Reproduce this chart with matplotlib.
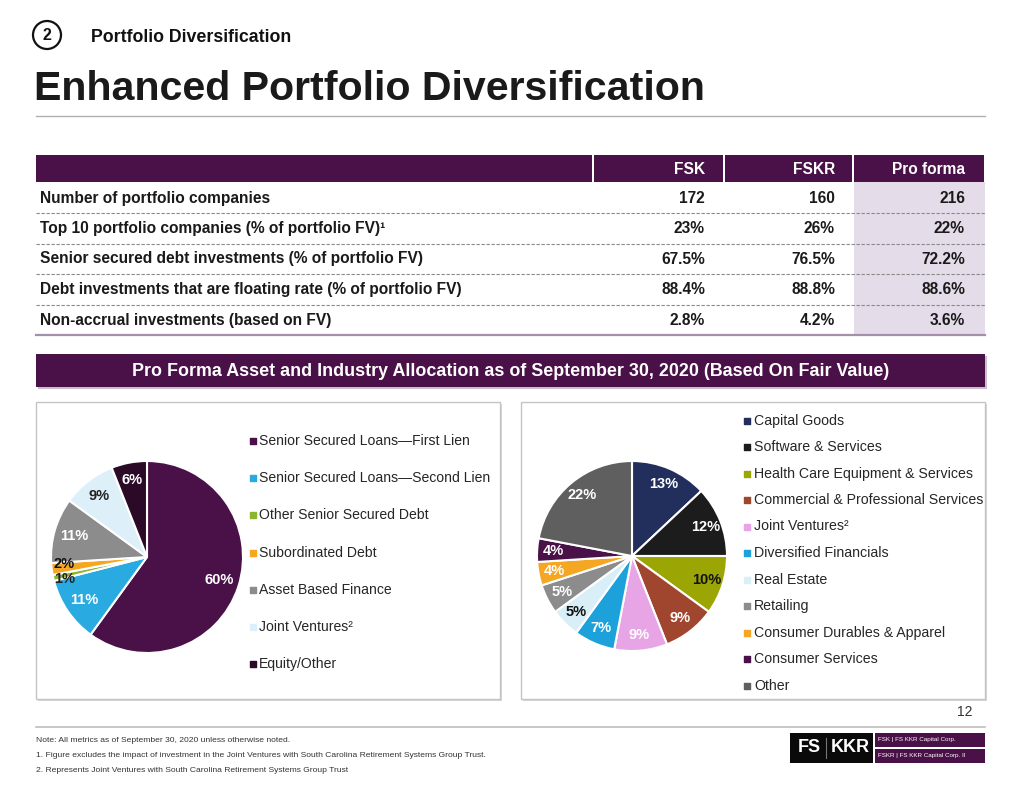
import numpy as np
import matplotlib
matplotlib.use("Agg")
from matplotlib import pyplot as plt
from matplotlib.patches import Rectangle, Circle

plt.rcParams['font.family'] = ['Liberation Sans', 'DejaVu Sans']

# table data
col_heads = ["FSK", "FSKR", "Pro forma"]
row_labels = ["Number of portfolio companies",
              "Top 10 portfolio companies (% of portfolio FV)¹",
              "Senior secured debt investments (% of portfolio FV)",
              "Debt investments that are floating rate (% of portfolio FV)",
              "Non-accrual investments (based on FV)"]
fsk_vals = ["172", "23%", "67.5%", "88.4%", "2.8%"]
fskr_vals = ["160", "26%", "76.5%", "88.8%", "4.2%"]
proforma_vals = ["216", "22%", "72.2%", "88.6%", "3.6%"]

# asset allocation pie
asset_names = ["Senior Secured Loans—First Lien", "Senior Secured Loans—Second Lien",
               "Other Senior Secured Debt", "Subordinated Debt", "Asset Based Finance",
               "Joint Ventures²", "Equity/Other"]
asset_pct = [60, 11, 1, 2, 11, 9, 6]
asset_colors = ["#4A1048", "#29ABE2", "#8DB42E", "#F5A623", "#8C8C8C", "#DDF0FA", "#2A0A26"]
asset_txt = ["white", "white", "#222222", "#111111", "white", "#222222", "white"]
asset_dist = [0.79, 0.79, 0.88, 0.87, 0.79, 0.81, 0.82]
asset_nudge = [0, 0, -2.5, 2.5, 0, 0, 0]   # vertical label nudge in points

# industry allocation pie
ind_names = ["Capital Goods", "Software & Services", "Health Care Equipment & Services",
             "Commercial & Professional Services", "Joint Ventures²", "Diversified Financials",
             "Real Estate", "Retailing", "Consumer Durables & Apparel", "Consumer Services", "Other"]
ind_pct = [13, 12, 10, 9, 9, 7, 5, 5, 4, 4, 22]
ind_colors = ["#222E5C", "#1C1C1C", "#9BA605", "#A0452E", "#E8A5E6", "#1DA1DA",
              "#D9EFF8", "#8C8C8C", "#F5A623", "#4A1048", "#5F5F5F"]
ind_txt = ["white", "white", "#111111", "white", "white", "white",
           "#111111", "white", "white", "white", "white"]

notes = ["Note: All metrics as of September 30, 2020 unless otherwise noted.",
         "1. Figure excludes the impact of investment in the Joint Ventures with South Carolina Retirement Systems Group Trust.",
         "2. Represents Joint Ventures with South Carolina Retirement Systems Group Trust"]

purple = "#4A1048"
W, H = 1020, 788
fig = plt.figure(figsize=(W/100, H/100), dpi=100)
ax = fig.add_axes([0, 0, 1, 1])
ax.set_xlim(0, W)
ax.set_ylim(H, 0)
ax.axis('off')

# header
ax.add_patch(Circle((47, 35), 14, fill=False, ec="#111111", lw=1.6))
ax.text(47, 35.5, "2", ha="center", va="center", fontsize=11.5, fontweight="bold", color="#111111")
ax.text(91, 37, "Portfolio Diversification", ha="left", va="center", fontsize=12.8,
        fontweight="bold", color="#111111")
ax.text(34, 89, "Enhanced Portfolio Diversification", ha="left", va="center", fontsize=29.6,
        fontweight="bold", color="#1A1A1A")
ax.plot([36, 985], [116, 116], color="#B0B0B0", lw=1)

# table
col_edges = [36, 594, 725, 854, 986]
for i in range(4):
    ax.add_patch(Rectangle((col_edges[i], 155), col_edges[i+1] - col_edges[i] - 2, 27,
                           fc=purple, ec="none"))
ax.add_patch(Rectangle((854, 182), 131, 153, fc="#E4DCE8", ec="none"))
right_x = [705, 835, 965]
for j, h in enumerate(col_heads):
    ax.text(right_x[j], 169, h, ha="right", va="center", fontsize=11.2,
            fontweight="bold", color="white")
row_y = [198, 228.5, 259, 289.5, 320]
for i, lab in enumerate(row_labels):
    ax.text(40, row_y[i], lab, ha="left", va="center", fontsize=11.2,
            fontweight="bold", color="#1A1A1A")
    for j, vals in enumerate([fsk_vals, fskr_vals, proforma_vals]):
        ax.text(right_x[j], row_y[i], vals[i], ha="right", va="center", fontsize=11.2,
                fontweight="bold", color="#1A1A1A")
    if i < len(row_labels) - 1:
        ax.plot([36, 985], [row_y[i] + 15.2] * 2, color="#8A8A8A", lw=0.8, ls=(0, (3, 1.5)))
ax.plot([36, 985], [335, 335], color="#A58FAA", lw=1.6)

# section banner
ax.add_patch(Rectangle((38, 356), 949, 33, fc="#C9C0CB", ec="none"))
ax.add_patch(Rectangle((36, 354), 949, 33, fc=purple, ec="none"))
ax.text(511, 371, "Pro Forma Asset and Industry Allocation as of September 30, 2020 (Based On Fair Value)",
        ha="center", va="center", fontsize=12.9, fontweight="bold", color="white")

# panel boxes
for x0 in [36, 521]:
    ax.add_patch(Rectangle((x0 + 2, 404), 464, 297, fc="#D6D6D6", ec="none"))
    ax.add_patch(Rectangle((x0, 402), 464, 297, fc="white", ec="#C4C4C4", lw=1))


def draw_pie(cx, cy, r, values, colors, txt_colors, dists, nudges=None):
    pax = fig.add_axes([(cx - r) / W, (H - cy - r) / H, 2 * r / W, 2 * r / H])
    wedges, _ = pax.pie(values, colors=colors, startangle=90, counterclock=False,
                        wedgeprops=dict(edgecolor="white", linewidth=1.5))
    if nudges is None:
        nudges = [0] * len(values)
    for w, v, tc, d, nd in zip(wedges, values, txt_colors, dists, nudges):
        a = np.deg2rad((w.theta1 + w.theta2) / 2)
        pax.annotate(f"{v}%", (d * np.cos(a), d * np.sin(a)), xytext=(0, nd),
                     textcoords="offset points", ha="center", va="center",
                     fontsize=10.5, fontweight="bold", color=tc)
    pax.set_xlim(-1, 1)
    pax.set_ylim(-1, 1)
    pax.axis('off')


draw_pie(147, 557, 96, asset_pct, asset_colors, asset_txt, asset_dist, asset_nudge)
draw_pie(632, 556, 95, ind_pct, ind_colors, ind_txt, [0.83] * len(ind_pct))

# legends
for i, (n, c) in enumerate(zip(asset_names, asset_colors)):
    y = 441 + i * 37.2
    ax.scatter([253], [y], marker="s", s=13, color=c)
    ax.text(259, y, n, ha="left", va="center", fontsize=10.1, color="#262626")
for i, (n, c) in enumerate(zip(ind_names, ind_colors)):
    y = 420.5 + i * 26.5
    ax.scatter([747], [y], marker="s", s=13, color=c)
    ax.text(754, y, n, ha="left", va="center", fontsize=10.2, color="#262626")

# footer
ax.text(973, 712, "12", ha="right", va="center", fontsize=10, color="#333333")
ax.plot([36, 985], [727, 727], color="#BDBDBD", lw=1.2)
for i, n in enumerate(notes):
    ax.text(36, 741 + i * 14.5, n, ha="left", va="center", fontsize=6.1,
            color="#333333")

# logo
ax.add_patch(Rectangle((790, 733), 83, 30, fc="#0A0A0A", ec="none"))
ax.text(809, 748, "FS", ha="center", va="center", fontsize=13, fontweight="bold", color="white")
ax.plot([826, 826], [738, 758], color="#777777", lw=0.8)
ax.text(850, 748, "KKR", ha="center", va="center", fontsize=13, fontweight="bold", color="white")
ax.add_patch(Rectangle((875, 733), 110, 14, fc=purple, ec="none"))
ax.add_patch(Rectangle((875, 749), 110, 14, fc=purple, ec="none"))
ax.text(878, 740, "FSK | FS KKR Capital Corp.", ha="left", va="center", fontsize=4.5, color="white")
ax.text(878, 756, "FSKR | FS KKR Capital Corp. II", ha="left", va="center", fontsize=4.5, color="white")

fig.savefig("out.png", dpi=100)
